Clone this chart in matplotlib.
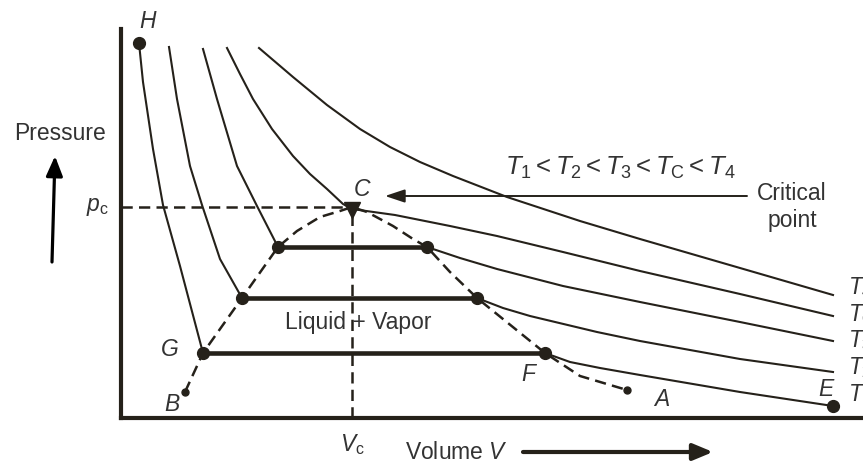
import matplotlib
matplotlib.use('Agg')
import matplotlib.pyplot as plt

plt.rcParams['font.family'] = ['Liberation Sans', 'DejaVu Sans']
plt.rcParams['mathtext.fontset'] = 'custom'
plt.rcParams['mathtext.rm'] = 'Liberation Sans'
plt.rcParams['mathtext.it'] = 'Liberation Sans:italic'

# isotherms of a real gas (V, p in arbitrary diagram units)
# liquid branch, plateau, gas branch for the subcritical ones
T1_liq_V = [18, 22, 32, 42, 59, 82]
T1_liq_p = [375, 336, 269, 213, 152, 65]
T1_gas_V = [424, 449, 479, 519, 619, 712]
T1_gas_p = [65, 56, 50, 43, 26, 12]

T2_liq_V = [48, 56, 69, 81, 99, 121]
T2_liq_p = [371, 319, 252, 213, 159, 120]
T2_gas_V = [356, 382, 409, 476, 519, 619, 712]
T2_gas_p = [120, 110, 102, 86, 77, 59, 46]

T3_liq_V = [82, 96, 116, 136, 157]
T3_liq_p = [369, 319, 252, 212, 171]
T3_gas_V = [306, 339, 376, 442, 519, 619, 712]
T3_gas_p = [171, 160, 149, 132, 116, 96, 77]

Tc_V = [106, 119, 132, 151, 172, 189, 206, 222, 231, 274, 329, 376, 442, 519, 619, 712]
Tc_p = [370, 344, 319, 289, 262, 244, 229, 214, 209, 203, 192, 182, 166, 147, 124, 102]

T4_V = [138, 172, 206, 239, 269, 299, 332, 386, 459, 519, 619, 712]
T4_p = [370, 341, 313, 289, 271, 256, 242, 221, 197, 179, 150, 123]

# saturation dome
dome_V = [64, 82, 121, 157, 176, 199, 219, 231, 246, 272, 292, 306, 329, 356, 424, 459, 506]
dome_p = [26, 65, 120, 171, 187, 201, 207, 211, 206, 192, 179, 171, 146, 120, 65, 42, 28]

Vc, pc = 231, 211

dots_V = [18, 82, 121, 157, 306, 356, 424, 712]
dots_p = [375, 65, 120, 171, 171, 120, 65, 12]
ends_V = [64, 506]   # B and A
ends_p = [26, 28]

point_names = ['H', 'C', 'G', 'B', 'F', 'A', 'E']
point_V = [27, 241, 49, 51, 407, 541, 705]
point_p = [397, 229, 69, 14, 44, 19, 29]

iso_names = [r'$T_4$', r'$T_\mathrm{C}$', r'$T_3$', r'$T_2$', r'$T_1$']
iso_label_p = [131, 104, 78, 51, 24]

ink = '#25211a'
txt = '#333333'

fig = plt.figure(figsize=(8.63, 4.64), dpi=100)
ax = fig.add_axes([0, 0, 1, 1])
ax.set_xlim(-121, 742)
ax.set_ylim(-45, 419)

for s in ['top', 'right']:
    ax.spines[s].set_visible(False)
ax.spines['left'].set_position(('data', 0))
ax.spines['bottom'].set_position(('data', 0))
ax.spines['left'].set_bounds(0, 389)
ax.spines['bottom'].set_bounds(0, 742)
for s in ['left', 'bottom']:
    ax.spines[s].set_linewidth(3)
    ax.spines[s].set_color(ink)
ax.set_xticks([])
ax.set_yticks([])

lw = 1.5
ax.plot(T1_liq_V, T1_liq_p, color=ink, lw=lw)
ax.plot(T1_gas_V, T1_gas_p, color=ink, lw=lw)
ax.plot(T2_liq_V, T2_liq_p, color=ink, lw=lw)
ax.plot(T2_gas_V, T2_gas_p, color=ink, lw=lw)
ax.plot(T3_liq_V, T3_liq_p, color=ink, lw=lw)
ax.plot(T3_gas_V, T3_gas_p, color=ink, lw=lw)
ax.plot(Tc_V, Tc_p, color=ink, lw=lw)
ax.plot(T4_V, T4_p, color=ink, lw=lw)

# two-phase plateaus
ax.plot([T1_liq_V[-1], T1_gas_V[0]], [T1_liq_p[-1], T1_gas_p[0]], color=ink, lw=3.3)
ax.plot([T2_liq_V[-1], T2_gas_V[0]], [T2_liq_p[-1], T2_gas_p[0]], color=ink, lw=3.3)
ax.plot([T3_liq_V[-1], T3_gas_V[0]], [T3_liq_p[-1], T3_gas_p[0]], color=ink, lw=3.3)

ax.plot(dome_V, dome_p, color=ink, lw=1.8, dashes=(4.5, 2.5))
ax.plot([0, Vc], [pc, pc], color=ink, lw=1.8, dashes=(4.5, 2.5))
ax.plot([Vc, Vc], [0, pc], color=ink, lw=1.8, dashes=(4.5, 2.5))

ax.plot(dots_V, dots_p, 'o', color=ink, ms=8.5, ls='none')
ax.plot(ends_V, ends_p, 'o', color=ink, ms=5, ls='none')
ax.plot([Vc], [pc - 3], 'v', color=ink, ms=12)

for name, v, p in zip(point_names, point_V, point_p):
    ax.text(v, p, name, fontsize=16.5, style='italic', color=txt, ha='center', va='center')

for name, p in zip(iso_names, iso_label_p):
    ax.text(727, p, name, fontsize=16.5, color=txt, ha='left', va='center')

ax.text(237, 96, 'Liquid + Vapor', fontsize=16.5, color=txt, ha='center', va='center')
ax.text(499, 251, r'$T_1 < T_2 < T_3 < T_\mathrm{C} < T_4$', fontsize=18.5, color=txt,
        ha='center', va='center')
ax.text(671, 212, 'Critical\npoint', fontsize=16.5, color=txt, ha='center', va='center',
        linespacing=1.25)
ax.annotate('', xy=(264, 222), xytext=(626, 222),
            arrowprops=dict(arrowstyle='-|>,head_length=0.6,head_width=0.2', lw=1.4,
                            color=ink, shrinkA=0, shrinkB=0, mutation_scale=20))

ax.text(-61, 286, 'Pressure', fontsize=16.5, color=txt, ha='center', va='center')
ax.text(-24, 212, r'$p_\mathrm{c}$', fontsize=16.5, color=txt, ha='center', va='center')
ax.annotate('', xy=(-66, 262), xytext=(-69, 156),
            arrowprops=dict(arrowstyle='-|>,head_length=0.6,head_width=0.25', lw=2.3,
                            color='black', shrinkA=0, shrinkB=0, mutation_scale=20))

ax.text(Vc, -26, r'$V_\mathrm{c}$', fontsize=16.5, color=txt, ha='center', va='center')
ax.text(335, -34, r'Volume $V$', fontsize=16.5, color=txt, ha='center', va='center')
ax.annotate('', xy=(592, -34), xytext=(402, -34),
            arrowprops=dict(arrowstyle='-|>,head_length=0.6,head_width=0.25', lw=3,
                            color=ink, shrinkA=0, shrinkB=0, mutation_scale=20))

fig.savefig('out.png', dpi=100)
